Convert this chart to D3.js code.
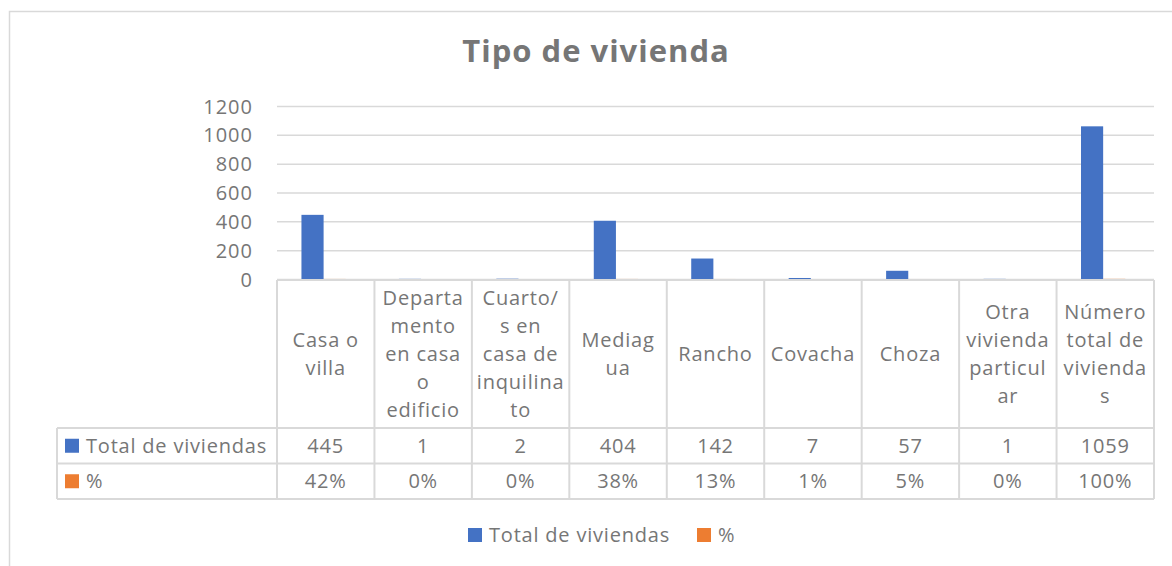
<!DOCTYPE html>
<html>
<head>
<meta charset="utf-8">
<script src="https://cdn.jsdelivr.net/npm/d3@7"></script>
<style>
    body { margin: 0; background: #fff; }
    text { font-family: "Open Sans", sans-serif; fill: #767676; }
</style>
</head>
<body>
<div id="chart"></div>
<script>
// categories and their wrapped labels as shown in the table header
const categories = ["Casa o villa", "Departamento en casa o edificio", "Cuarto/s en casa de inquilinato",
    "Mediagua", "Rancho", "Covacha", "Choza", "Otra vivienda particular", "Número total de viviendas"];
const categoryLines = [
    ["Casa o", "villa"],
    ["Departa", "mento", "en casa", "o", "edificio"],
    ["Cuarto/", "s en", "casa de", "inquilina", "to"],
    ["Mediag", "ua"],
    ["Rancho"],
    ["Covacha"],
    ["Choza"],
    ["Otra", "vivienda", "particul", "ar"],
    ["Número", "total de", "vivienda", "s"]
];

// series values
const totalViviendas = [445, 1, 2, 404, 142, 7, 57, 1, 1059];
const porcentaje = [0.42, 0.0, 0.0, 0.38, 0.13, 0.01, 0.05, 0.0, 1.0];
const porcentajeLabels = ["42%", "0%", "0%", "38%", "13%", "1%", "5%", "0%", "100%"];

// y axis ticks
const yTicks = [0, 200, 400, 600, 800, 1000, 1200];

const series = [
    {name: "Total de viviendas", values: totalViviendas, labels: totalViviendas.map(String), color: "#4472C4"},
    {name: "%", values: porcentaje, labels: porcentajeLabels, color: "#ED7D31"}
];

const W = 1172, H = 566;
const grid = "#d9d9d9";

const svg = d3.select("#chart")
    .append("svg")
    .attr("width", W)
    .attr("height", H);

// chart frame
svg.append("path")
    .attr("d", "M9.5," + H + "V11.5H" + W)
    .attr("fill", "none")
    .attr("stroke", grid)
    .attr("stroke-width", 1.5);

// title
svg.append("text")
    .attr("x", 596)
    .attr("y", 62)
    .attr("text-anchor", "middle")
    .style("font-size", "31px")
    .style("font-weight", "bold")
    .style("letter-spacing", "1px")
    .text("Tipo de vivienda");

// scales
const x = d3.scaleBand()
    .domain(categories)
    .range([277, 1154])
    .padding(0);

const x1 = d3.scaleBand()
    .domain(series.map(s => s.name))
    .range([0, x.bandwidth()])
    .paddingInner(0)
    .paddingOuter(1.2)
    .align(0.46);

const y = d3.scaleLinear()
    .domain([0, 1200])
    .range([279, 106]);

// gridlines and y labels
const yAxis = svg.append("g")
    .attr("transform", "translate(277,0)")
    .call(d3.axisLeft(y).tickValues(yTicks).tickSize(-(1154 - 277)).tickFormat(d3.format("d")));
yAxis.select(".domain").remove();
yAxis.selectAll(".tick line")
    .attr("stroke", grid)
    .attr("stroke-width", 1.5);
yAxis.selectAll(".tick text")
    .attr("x", -24)
    .attr("dy", "0.35em")
    .style("font-size", "20px")
    .style("letter-spacing", "1px")
    .attr("fill", null);

// bars
svg.append("g")
    .selectAll("g")
    .data(series)
    .join("g")
    .attr("fill", s => s.color)
    .selectAll("rect")
    .data(s => s.values.map((v, i) => ({name: s.name, cat: categories[i], value: v})))
    .join("rect")
    .attr("x", d => x(d.cat) + x1(d.name))
    .attr("y", d => y(d.value))
    .attr("width", x1.bandwidth())
    .attr("height", d => y(0) - y(d.value));

// data table
const headerTop = 280, rowTop = 428, rowH = 35.5;
const tableBottom = rowTop + rowH * series.length;
const table = svg.append("g")
    .attr("stroke", grid)
    .attr("stroke-width", 2)
    .attr("fill", "none");

// horizontal lines
table.append("line").attr("x1", 277).attr("x2", 1154).attr("y1", headerTop).attr("y2", headerTop);
d3.range(series.length + 1).forEach(i => {
    table.append("line")
        .attr("x1", 57).attr("x2", 1154)
        .attr("y1", rowTop + i * rowH).attr("y2", rowTop + i * rowH);
});
// vertical lines
table.append("line").attr("x1", 57).attr("x2", 57).attr("y1", rowTop).attr("y2", tableBottom);
categories.forEach(c => {
    table.append("line").attr("x1", x(c)).attr("x2", x(c)).attr("y1", headerTop).attr("y2", tableBottom);
});
table.append("line").attr("x1", 1154).attr("x2", 1154).attr("y1", headerTop).attr("y2", tableBottom);

// header labels
const lineH = 27.8;
const headerMid = (headerTop + rowTop) / 2;
categories.forEach((c, i) => {
    const lines = categoryLines[i];
    const t = svg.append("text")
        .attr("text-anchor", "middle")
        .style("font-size", "20px")
        .style("letter-spacing", "0.8px");
    lines.forEach((ln, j) => {
        t.append("tspan")
            .attr("x", x(c) + x.bandwidth() / 2)
            .attr("y", headerMid + 7 + (j - (lines.length - 1) / 2) * lineH)
            .text(ln);
    });
});

// rows
series.forEach((s, r) => {
    const cy = rowTop + r * rowH + rowH / 2;
    svg.append("rect")
        .attr("x", 65).attr("y", cy - 7)
        .attr("width", 14).attr("height", 14)
        .attr("fill", s.color);
    svg.append("text")
        .attr("x", 86).attr("y", cy + 7)
        .style("font-size", "20px")
        .style("letter-spacing", "0.8px")
        .text(s.name);
    svg.append("g")
        .selectAll("text")
        .data(s.labels)
        .join("text")
        .attr("x", (d, i) => x(categories[i]) + x.bandwidth() / 2)
        .attr("y", cy + 7)
        .attr("text-anchor", "middle")
        .style("font-size", "20px")
        .style("letter-spacing", "0.8px")
        .text(d => d);
});

// legend
const legendX = [468, 697];
const legend = svg.append("g")
    .selectAll("g")
    .data(series)
    .join("g")
    .attr("transform", (d, i) => "translate(" + legendX[i] + ",528)");
legend.append("rect")
    .attr("width", 14).attr("height", 14)
    .attr("fill", d => d.color);
legend.append("text")
    .attr("x", 21).attr("y", 14)
    .style("font-size", "20px")
    .style("letter-spacing", "0.8px")
    .text(d => d.name);
</script>
</body>
</html>
